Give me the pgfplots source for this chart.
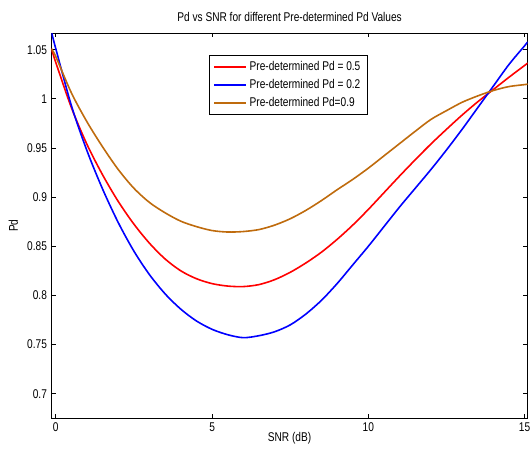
\documentclass[border=0pt]{standalone}
\usepackage{pgfplots}
\pgfplotsset{compat=1.18}
\usepackage{fontspec}
\setmainfont[FakeStretch=0.8]{Liberation Sans}
\definecolor{pdbrown}{rgb}{0.75,0.42,0.05}

\begin{document}
\fontsize{9.5pt}{11pt}\selectfont
\begin{tikzpicture}
\useasboundingbox (-38.55pt,-26.25pt) rectangle (358.7pt,313.5pt);
\begin{axis}[
    scale only axis,
    width=357pt, height=288.75pt,
    xmin=-0.14, xmax=15.1,
    ymin=0.675, ymax=1.067,
    xtick={0,5,10,15},
    ytick={0.7,0.75,0.8,0.85,0.9,0.95,1,1.05},
    yticklabels={0.7,0.75,0.8,0.85,0.9,0.95,1,1.05},
    /pgf/number format/assume math mode=true,
    tick align=inside,
    major tick length=3.3pt,
    axis line style={line width=0.7pt},
    every tick/.style={black, line width=0.6pt},
    tick label style={font=\fontsize{9.5pt}{11pt}\selectfont},
    xticklabel style={anchor=base, yshift=-9.75pt},
    title={Pd vs SNR for different Pre-determined Pd Values},
    title style={at={(0.5,1)}, anchor=base, yshift=2.5pt},
    xlabel={SNR (dB)},
    xlabel style={at={(0.5,0)}, anchor=base, yshift=-17.25pt},
    ylabel={Pd},
    ylabel style={at={(rel axis cs:-0.0799,0.5)}, anchor=center},
    legend cell align=left,
    legend style={at={(0.331,0.943)}, anchor=north west, draw=black,
        inner xsep=3pt, inner ysep=2.5pt, row sep=1.2pt,
        font=\fontsize{9.5pt}{11pt}\selectfont},
    legend image code/.code={\draw[#1, line width=1.2pt] (0pt,0pt) -- (24pt,0pt);},
]
% Pre-determined Pd = 0.5
\addplot[red, line width=1.2pt, smooth] coordinates {
(-0.14,1.051) (0,1.037) (0.5,0.991) (1,0.9535) (1.5,0.9225) (2,0.8955)
(2.5,0.8725) (3,0.853) (3.5,0.837) (4,0.825) (4.5,0.817) (5,0.812)
(5.5,0.8095) (6,0.809) (6.5,0.811) (7,0.816) (7.5,0.8235) (8,0.833)
(8.5,0.844) (9,0.857) (9.5,0.8715) (10,0.8875) (10.5,0.9045) (11,0.9215)
(11.5,0.938) (12,0.954) (12.5,0.969) (13,0.9835) (13.5,0.997) (14,1.0095)
(14.5,1.022) (15,1.034) (15.1,1.0365)
};
% Pre-determined Pd = 0.2
\addplot[blue, line width=1.2pt, smooth] coordinates {
(-0.14,1.068) (0,1.051) (0.5,0.993) (1,0.947) (1.5,0.908) (2,0.874)
(2.5,0.845) (3,0.821) (3.5,0.8015) (4,0.786) (4.5,0.774) (5,0.7655)
(5.5,0.760) (6,0.757) (6.5,0.759) (7,0.763) (7.5,0.770) (8,0.781)
(8.5,0.795) (9,0.812) (9.5,0.831) (10,0.850) (10.5,0.870) (11,0.890)
(11.5,0.909) (12,0.928) (12.5,0.948) (13,0.969) (13.5,0.991) (14,1.013)
(14.5,1.035) (15,1.054) (15.1,1.058)
};
% Pre-determined Pd = 0.9
\addplot[pdbrown, line width=1.2pt, smooth] coordinates {
(-0.14,1.051) (0,1.043) (0.5,1.006) (1,0.9765) (1.5,0.951) (2,0.928)
(2.5,0.909) (3,0.8945) (3.5,0.884) (4,0.8755) (4.5,0.870) (5,0.866)
(5.5,0.8645) (6,0.865) (6.5,0.867) (7,0.8715) (7.5,0.878) (8,0.8865)
(8.5,0.8965) (9,0.9075) (9.5,0.918) (10,0.9295) (10.5,0.942) (11,0.9545)
(11.5,0.967) (12,0.979) (12.5,0.988) (13,0.9965) (13.5,1.003) (14,1.0085)
(14.5,1.0125) (15,1.0145) (15.1,1.015)
};
\legend{Pre-determined Pd = 0.5, Pre-determined Pd = 0.2, Pre-determined Pd=0.9}
\end{axis}
\end{tikzpicture}
\end{document}
